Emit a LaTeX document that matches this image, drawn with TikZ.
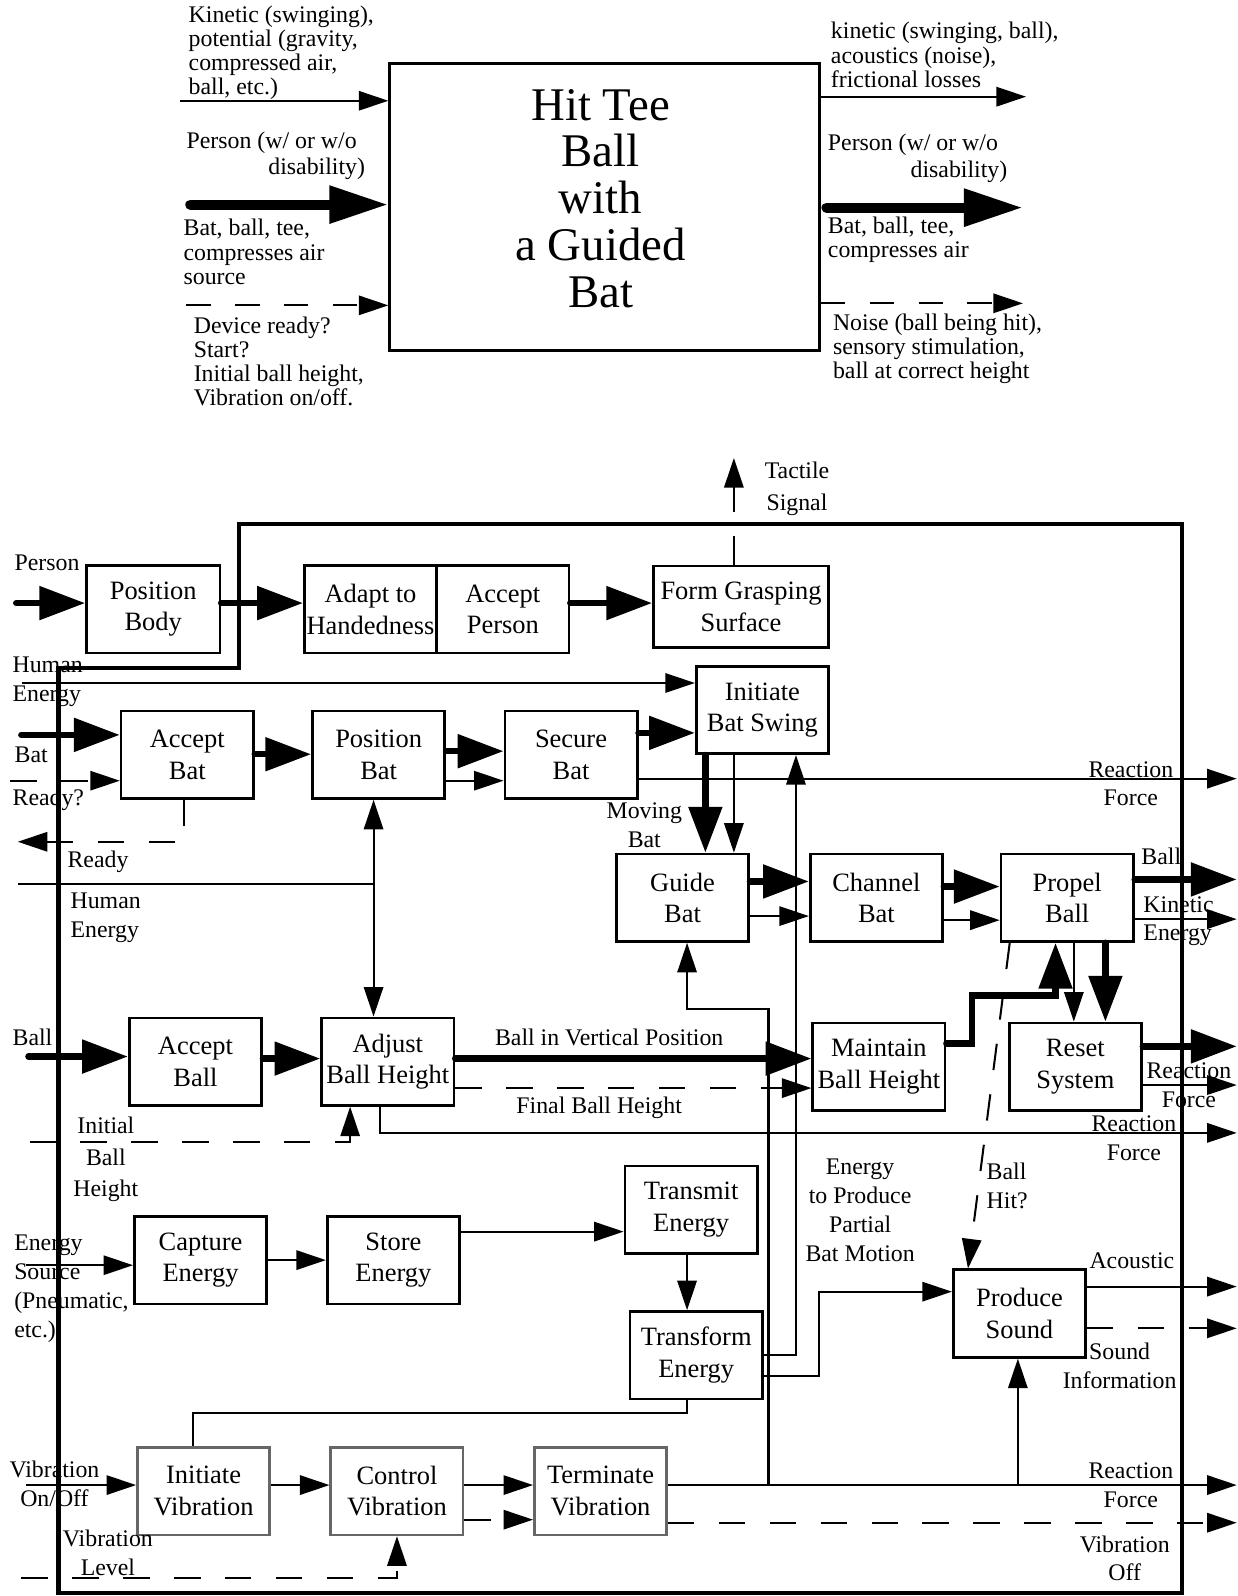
\documentclass[tikz,border=0pt]{standalone}
\usepackage{fontspec}
\setmainfont{Liberation Serif}
\usetikzlibrary{arrows.meta}
\newcommand{\bxf}{\fontsize{13}{15.5}\selectfont}
\newcommand{\lbf}{\fontsize{11.7}{14.2}\selectfont}
\newcommand{\lbwf}{\fontsize{11.7}{15.6}\selectfont}
\newcommand{\tlf}{\fontsize{11.7}{11.85}\selectfont}
\newcommand{\titlef}{\fontsize{23}{23}\selectfont}
\tikzset{
  fbox/.style={draw, line width=1.3pt, fill=white, minimum width=65pt, minimum height=43pt, inner sep=0pt, align=center, font=\bxf},
  vbox/.style={fbox, draw=black!60},
  lb/.style={inner sep=0pt, font=\lbf},
  tl/.style={inner sep=0pt, font=\tlf},
  plain/.style={line width=1pt},
  sig/.style={line width=1pt, -{Triangle[length=14.5pt,width=9.5pt]}},
  inf/.style={sig, dash pattern=on 13pt off 12pt},
  mat/.style={line width=3.2pt, line cap=round, -{Triangle[length=22.5pt,width=16pt]}},
  tmat/.style={line width=5pt, line cap=round, -{Triangle[length=29pt,width=17.5pt]}},
  tinf/.style={sig, dash pattern=on 12pt off 12pt},
  sysb/.style={line width=2pt}
}
\begin{document}
\begin{tikzpicture}[x=0.5pt,y=-0.5pt]
\fill[white] (0,0) rectangle (1216,1568);
\useasboundingbox (0,0) rectangle (1216,1568);

% ---------------- top black box ----------------
\node[draw, line width=1.5pt, minimum width=211pt, minimum height=141pt, inner sep=0pt] (main) at (594,203) {};
\node[inner sep=0pt, font=\titlef, align=center] (title) at (590,195) {Hit Tee\\Ball\\with\\a Guided\\Bat};

\coordinate (i1) at (177,99);
\coordinate (i2) at (187,201);
\coordinate (i3) at (183,300);
\coordinate (o1) at (1008,95);
\coordinate (o2s) at (812,204);
\coordinate (o2) at (1005,204);
\coordinate (o3) at (1005,298);
\draw[sig] (i1) -- (main.west |- i1);
\draw[tmat] (i2) -- (main.west |- i2);
\draw[tinf] (i3) -- (main.west |- i3);
\draw[sig] (main.east |- o1) -- (o1);
\draw[tmat] (o2s) -- (o2);
\draw[tinf] (main.east |- o3) -- (o3);

\node[tl, anchor=west, align=left] (t1) at (185,52) {Kinetic (swinging),\\potential (gravity,\\compressed air,\\ball, etc.)};
\node[tl, anchor=west] (t2) at (183,140.5) {Person (w/ or w/o};
\node[tl, anchor=east] (t3) at (359,166) {disability)};
\node[tl, anchor=west, align=left] (t4) at (180,247.5) {Bat, ball, tee,\\compresses air\\source};
\node[tl, anchor=west, align=left] (t5) at (190,355) {Device ready?\\Start?\\Initial ball height,\\Vibration on/off.};
\node[tl, anchor=west, align=left] (t6) at (816,54) {kinetic (swinging, ball),\\acoustics (noise),\\frictional losses};
\node[tl, anchor=west] (t7) at (813,142.5) {Person (w/ or w/o};
\node[tl, anchor=east] (t8) at (990,168.5) {disability)};
\node[tl, anchor=west, align=left] (t9) at (813,235.5) {Bat, ball, tee,\\compresses air};
\node[tl, anchor=west, align=left] (t10) at (818,343) {Noise (ball being hit),\\sensory stimulation,\\ball at correct height};

% ---------------- system boundary ----------------
\draw[sysb] (1161,1565) -- (1161,515) -- (235,515) -- (235,656) -- (57.5,656) -- (57.5,1565) -- cycle;

% ---------------- boxes ----------------
\node[fbox, minimum width=65.5pt] (pbody) at (150.5,598.5) {Position\\Body};
\node[fbox] (adapt) at (364,598.5) {Adapt to\\Handedness};
\node[fbox] (acptp) at (494,598.5) {Accept\\Person};
\node[fbox, minimum width=86pt, minimum height=40pt] (form) at (728,596) {Form Grasping\\Surface};
\node[fbox] (swing) at (749,697.5) {Initiate\\Bat Swing};
\node[fbox] (abat) at (184,741.5) {Accept\\Bat};
\node[fbox] (pbat) at (372,741.5) {Position\\Bat};
\node[fbox] (sbat) at (561,741.5) {Secure\\Bat};
\node[fbox] (guide) at (670.5,882) {Guide\\Bat};
\node[fbox] (chan) at (861,882) {Channel\\Bat};
\node[fbox] (propel) at (1048.5,882) {Propel\\Ball};
\node[fbox] (aball) at (192,1043) {Accept\\Ball};
\node[fbox] (adjust) at (381,1043) {Adjust\\Ball Height};
\node[fbox] (maint) at (863.5,1048) {Maintain\\Ball Height};
\node[fbox] (reset) at (1056.5,1048) {Reset\\System};
\node[fbox] (capt) at (197,1238) {Capture\\Energy};
\node[fbox] (store) at (386.5,1238) {Store\\Energy};
\node[fbox] (transm) at (679,1188.5) {Transmit\\Energy};
\node[fbox] (transf) at (684,1331.5) {Transform\\Energy};
\node[fbox] (prod) at (1001.5,1290.5) {Produce\\Sound};
\node[vbox] (ivib) at (200,1465) {Initiate\\Vibration};
\node[vbox] (cvib) at (390,1465) {Control\\Vibration};
\node[vbox] (tvib) at (590,1465) {Terminate\\Vibration};

% ---------------- free ends ----------------
\coordinate (pin) at (16,592.5);
\coordinate (tsA) at (721,527);
\coordinate (tsB) at (721,503);
\coordinate (tsT) at (721,450);
\coordinate (he1) at (21.5,671);
\coordinate (batin) at (21,722);
\coordinate (rdyin) at (10,767);
\coordinate (rdyc) at (181,827);
\coordinate (rdyout) at (17.5,827);
\coordinate (rf1) at (1215,765);
\coordinate (he2) at (18,868.5);
\coordinate (hej) at (367,868.5);
\coordinate (oball) at (1215,864);
\coordinate (okin) at (1215,903);
\coordinate (orst1) at (1215,1028);
\coordinate (orst2) at (1215,1066);
\coordinate (oadj) at (1215,1113);
\coordinate (ballin) at (28,1038);
\coordinate (ibh) at (29,1121.5);
\coordinate (ein) at (26,1243);
\coordinate (vin) at (26,1459);
\coordinate (vlv) at (21,1550);
\coordinate (otv) at (1215,1459);
\coordinate (ovoff) at (1215,1496);
\coordinate (oac) at (1215,1264);
\coordinate (osnd) at (1215,1305);
\coordinate (jt1) at (755,1459);
\coordinate (jt2) at (1000,1459);

% ---------------- connectors ----------------
\draw[mat] (pin) -- (pbody.west |- pin);
\draw[mat] (pbody.east |- pin) -- (adapt.west |- pin);
\draw[mat] (acptp.east |- pin) -- (form.west |- pin);
\draw[plain] (form.north -| tsA) -- (tsA);
\draw[sig] (tsB) -- (tsT);

\draw[sig] (he1) -- (swing.west |- he1);
\draw[mat] (batin) -- (abat.west |- batin);
\draw[inf] (rdyin) -- (abat.west |- rdyin);
\draw[inf] (abat.south -| rdyc) -- (rdyc) -- (rdyout);
\draw[mat] (abat.east |- 0,741) -- (pbat.west |- 0,741);
\draw[mat] (pbat.east |- 0,738) -- (sbat.west |- 0,738);
\draw[sig] (pbat.east |- 0,767) -- (sbat.west |- 0,767);
\draw[mat] (sbat.east |- 0,720) -- (swing.west |- 0,720);
\draw[sig] (sbat.east |- rf1) -- (rf1);
\draw[mat] (swing.south -| 693,0) -- (guide.north -| 693,0);
\draw[sig] (swing.south -| 721,0) -- (guide.north -| 721,0);

\draw[plain, {Triangle[length=14.5pt,width=9.5pt]}-{Triangle[length=14.5pt,width=9.5pt]}] (pbat.south -| hej) -- (adjust.north -| hej);
\draw[plain] (he2) -- (hej);

\draw[mat] (guide.east |- 0,866) -- (chan.west |- 0,866);
\draw[sig] (guide.east |- 0,900) -- (chan.west |- 0,900);
\draw[mat] (chan.east |- 0,871) -- (propel.west |- 0,871);
\draw[sig] (chan.east |- 0,904) -- (propel.west |- 0,904);
\draw[mat] (propel.east |- oball) -- (oball);
\draw[sig] (propel.east |- okin) -- (okin);
\draw[sig] (propel.south -| 1055,0) -- (reset.north -| 1055,0);
\draw[mat] (propel.south -| 1086,0) -- (reset.north -| 1086,0);
\draw[mat] (maint.east |- 0,1025) -- (955,1025) -- (955,978) -- (1037,978) -- (propel.south -| 1037,0);
\draw[inf] (propel.south -| 992,0) -- (prod.north -| 951,0);
\draw[mat] (reset.east |- orst1) -- (orst1);
\draw[sig] (reset.east |- orst2) -- (orst2);

\draw[mat] (ballin) -- (aball.west |- ballin);
\draw[mat] (aball.east |- 0,1040) -- (adjust.west |- 0,1040);
\draw[mat] (adjust.east |- 0,1040) -- (maint.west |- 0,1040);
\draw[inf] (adjust.east |- 0,1069) -- (maint.west |- 0,1069);
\draw[sig] (adjust.south -| 373,0) -- (373,1113) -- (oadj);
\draw[inf] (ibh) -- (344,1121.5) -- (adjust.south -| 344,0);

\draw[sig] (jt1) -- (755,991) -- (675,991) -- (guide.south -| 675,0);
\draw[sig] (transf.east |- 0,1331) -- (782,1331) -- (swing.south -| 782,0);
\draw[sig] (transf.east |- 0,1352) -- (805,1352) -- (805,1269) -- (prod.west |- 0,1269);
\draw[sig] (transm.south -| 675,0) -- (transf.north -| 675,0);
\draw[sig] (store.east |- 0,1210) -- (transm.west |- 0,1210);
\draw[sig] (capt.east |- 0,1238) -- (store.west |- 0,1238);
\draw[sig] (ein) -- (capt.west |- ein);
\draw[plain] (transf.south -| 675,0) -- (675,1388) -- (190,1388) -- (ivib.north -| 190,0);

\draw[sig] (vin) -- (ivib.west |- vin);
\draw[sig] (ivib.east |- 0,1459) -- (cvib.west |- 0,1459);
\draw[sig] (cvib.east |- 0,1459) -- (tvib.west |- 0,1459);
\draw[inf] (cvib.east |- 0,1493) -- (tvib.west |- 0,1493);
\draw[inf] (vlv) -- (390,1550) -- (cvib.south -| 390,0);
\draw[sig] (tvib.east |- otv) -- (otv);
\draw[sig] (jt2) -- (prod.south -| jt2);
\draw[inf] (tvib.east |- ovoff) -- (ovoff);
\draw[sig] (prod.east |- oac) -- (oac);
\draw[inf] (prod.east |- osnd) -- (osnd);

% ---------------- labels ----------------
\node[lb, anchor=west] (l1) at (14,553) {Person};
\node[lb, font=\lbwf, align=center] (l2) at (783,480.5) {Tactile\\Signal};
\node[lb, anchor=west, align=left] (l3) at (12,670) {Human\\Energy};
\node[lb, anchor=west] (l4) at (14,741.5) {Bat};
\node[lb, anchor=west] (l5) at (12,786) {Ready?};
\node[lb, anchor=west] (l6) at (66,846.5) {Ready};
\node[lb, anchor=west, align=left] (l7) at (69,901.7) {Human\\Energy};
\node[lb, align=center] (l8) at (633,811) {Moving\\Bat};
\node[lb, align=center] (l9) at (1111,770) {Reaction\\Force};
\node[lb, anchor=west] (l10) at (1121,841) {Ball};
\node[lb, anchor=west, align=left] (l11) at (1123,905) {Kinetic\\Energy};
\node[lb] (l12) at (598.5,1019.5) {Ball in Vertical Position};
\node[lb, anchor=west] (l13) at (507,1088.5) {Final Ball Height};
\node[lb, anchor=west] (l14) at (12,1019.5) {Ball};
\node[lb, font=\lbwf, align=center] (l15) at (104,1139) {Initial\\Ball\\Height};
\node[lb, align=center] (l16) at (1114,1118) {Reaction\\Force};
\node[lb, align=center] (l17) at (1168,1066) {Reaction\\Force};
\node[lb, anchor=west, align=left] (l18) at (969,1165) {Ball\\Hit?};
\node[lb, align=center] (l19) at (845,1189) {Energy\\to Produce\\Partial\\Bat Motion};
\node[lb, anchor=west, align=left] (l20) at (13.6,1266) {Energy\\Source\\(Pneumatic,\\etc.)};
\node[lb] (l21) at (1112,1239) {Acoustic};
\node[lb, align=center] (l22) at (1100,1341.7) {Sound\\Information};
\node[lb, align=center] (l23) at (1111,1459) {Reaction\\Force};
\node[lb, align=center] (l24) at (1105,1531) {Vibration\\Off};
\node[lb, align=center] (l25) at (53.5,1458) {Vibration\\On/Off};
\node[lb, align=center] (l26) at (106,1526) {Vibration\\Level};
\end{tikzpicture}
\end{document}
